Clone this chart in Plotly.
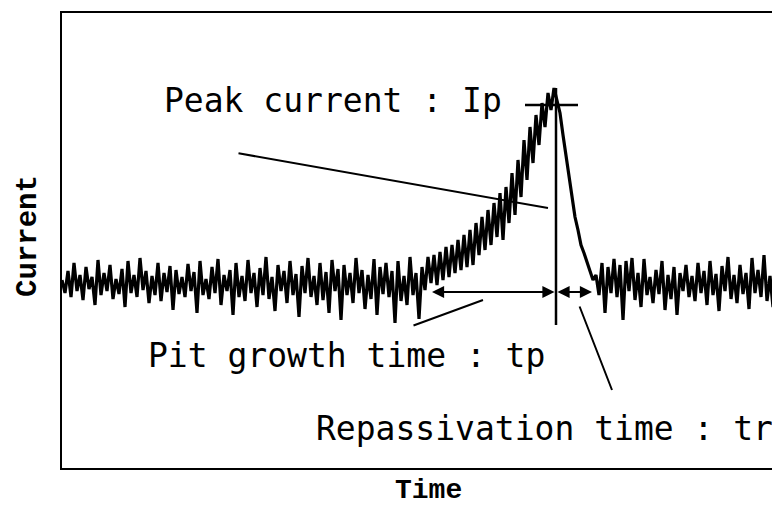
import numpy as np
import plotly.graph_objects as go

# Current trace (a.u., baseline = 0), sampled every 3 time units
baseline_before = [5, -8, 14, -12, 22, -6, 10, -15, 18, -4, 8, -20, 25, -10, 12, -6, 20, -14, 6, -9,
                   16, -22, 24, -8, 10, -12, 27, -5, 14, -18, 9, -10, 22, -16, 12, -7, 19, -25, 15, -9,
                   8, -12, 21, -6, 13, -28, 24, -10, 6, -14, 18, -8, 26, -20, 10, -6, 15, -30, 22, -12,
                   9, -16, 25, -8, 12, -22, 17, -10, 28, -14, 8, -26, 20, -6, 14, -18, 24, -10, 11, -32,
                   19, -8, 27, -12, 9, -20, 22, -15, 13, -28, 25, -6, 16, -35, 20, -10, 12, -18, 27, -8,
                   15, -24, 10, -14, 26, -30, 18, -9, 22, -12, 14, -38, 24, -16, 9, -20, 28, -10, 12, -34]
pit_growth = [18, -5, 28, 2, 30, 0, 33, 5, 38, 8, 40, 12, 45, 15, 50, 18, 55, 20, 62, 30,
              68, 35, 75, 40, 82, 48, 92, 45, 98, 62, 112, 70, 125, 88, 145, 105, 158, 122, 170, 140,
              182, 158, 192, 175, 197]
repassivation = [185, 172, 150, 130, 105, 88, 68, 55, 40, 32, 22, 14, 5, 10]
baseline_after = [-10, 22, -28, 18, -8, 26, -12, 20, -35, 24, -6, 27, -15, 12, -22, 26, -10, 8, -18, 15,
                  -9, 24, -25, 10, -14, 18, -30, 12, -6, 20, -12, 9, -16, 22, -8, 14, -20, 24, -10, 11,
                  -26, 19, -6, 28, -14, 10, -18, 20, -9, 12, -24, 27, -8, 15, -12, 30, -16, 9, -22, 26, -10]

current = baseline_before + pit_growth + repassivation + baseline_after
time = np.arange(len(current)) * 3

# Key event markers (time, current)
t_start = 370
t_peak = 494
t_end = 530
i_peak = 180
arrow_level = -7

fig = go.Figure()
fig.add_trace(go.Scatter(x=time, y=current, mode="lines",
                         line=dict(color="black", width=3.2), hoverinfo="skip"))

# peak cross
fig.add_trace(go.Scatter(x=[t_peak - 31, t_peak + 22], y=[i_peak, i_peak], mode="lines",
                         line=dict(color="black", width=2.5), hoverinfo="skip"))
fig.add_trace(go.Scatter(x=[t_peak, t_peak], y=[i_peak + 17, -40], mode="lines",
                         line=dict(color="black", width=2.5), hoverinfo="skip"))

font_lbl = dict(family="DejaVu Sans Mono", size=33, color="black")
ann = []
# tp arrow
ann.append(dict(x=t_start, y=arrow_level, ax=t_peak, ay=arrow_level, xref="x", yref="y",
                axref="x", ayref="y", showarrow=True, arrowhead=2, startarrowhead=2,
                arrowside="end+start", arrowsize=1.1, arrowwidth=2.2, arrowcolor="black", text=""))
# tr arrow
ann.append(dict(x=t_end, y=arrow_level, ax=t_peak, ay=arrow_level, xref="x", yref="y",
                axref="x", ayref="y", showarrow=True, arrowhead=2, startarrowhead=2,
                arrowside="end+start", arrowsize=1.1, arrowwidth=2.2, arrowcolor="black", text=""))
# leader lines
leaders = [((175, 132), (486, 77)), ((350, -41), (421, -15)), ((517, -20), (550, -105))]
for (x0, y0), (x1, y1) in leaders:
    ann.append(dict(x=x1, y=y1, ax=x0, ay=y0, xref="x", yref="y", axref="x", ayref="y",
                    showarrow=True, arrowhead=0, arrowwidth=2, arrowcolor="black", text=""))

ann.append(dict(x=271, y=185, xref="x", yref="y", text="Peak current : Ip", showarrow=False, font=font_lbl))
ann.append(dict(x=284, y=-70, xref="x", yref="y", text="Pit growth time : tp", showarrow=False, font=font_lbl))
ann.append(dict(x=482, y=-143, xref="x", yref="y", text="Repassivation time : tr", showarrow=False, font=font_lbl))
ann.append(dict(x=-0.046, y=0.51, xref="paper", yref="paper", xanchor="center", yanchor="middle",
                text="Current", textangle=-90, showarrow=False,
                font=dict(family="Liberation Mono", size=29, color="black", weight="bold")))
ann.append(dict(x=0.51, y=-0.05, xref="paper", yref="paper", xanchor="center", yanchor="middle",
                text="Time", showarrow=False,
                font=dict(family="Liberation Mono", size=28, color="black", weight="bold")))

fig.update_layout(
    width=772, height=502,
    margin=dict(l=54, r=0, t=5, b=42),
    paper_bgcolor="white", plot_bgcolor="white",
    showlegend=False,
    annotations=ann,
    xaxis=dict(range=[0, 718], showgrid=False, zeroline=False, showticklabels=False, ticks="",
               showline=True, mirror=True, linecolor="black", linewidth=2),
    yaxis=dict(range=[-183, 272], showgrid=False, zeroline=False, showticklabels=False, ticks="",
               showline=True, mirror=False, linecolor="black", linewidth=2),
)
fig.write_html("out.html")
